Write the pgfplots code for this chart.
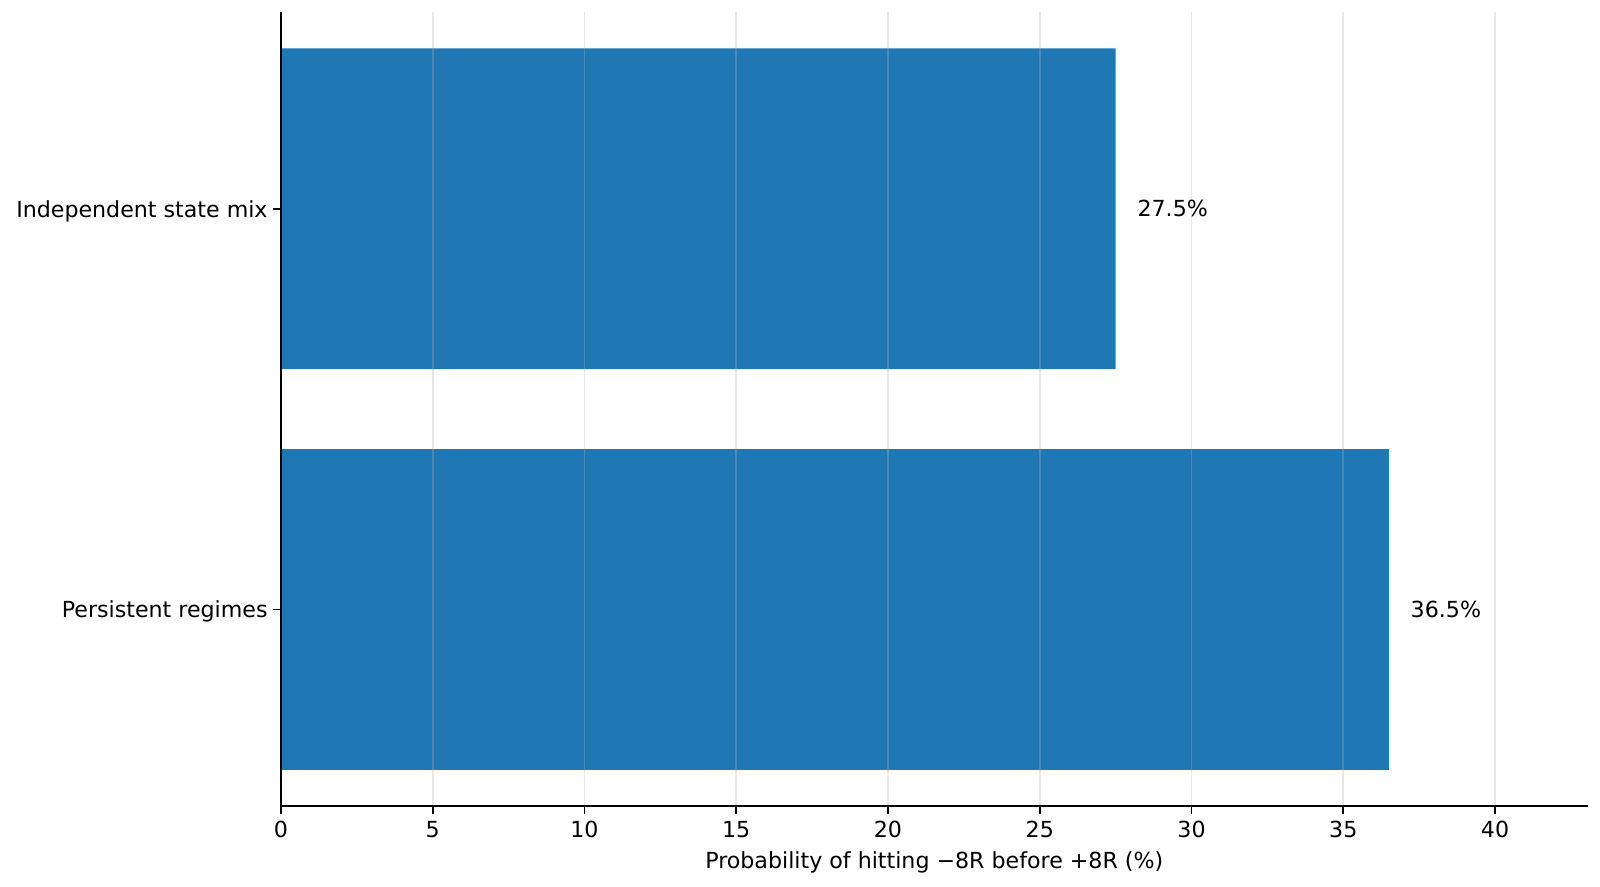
\documentclass[border=0pt]{standalone}
\usepackage{fontspec}
\setmainfont{DejaVu Sans}
\usepackage{pgfplots}
\pgfplotsset{compat=1.18}
\definecolor{barblue}{HTML}{1F77B4}

\begin{document}
\begin{tikzpicture}
\begin{axis}[
    scale only axis,
    width=590.2pt, height=358.4pt,
    xbar, bar width=0.8,
    xmin=0, xmax=43.05,
    ymin=-0.49, ymax=1.49,
    xtick={0,5,...,40},
    ytick={0,1},
    yticklabels={Persistent regimes, Independent state mix},
    yticklabel style={xshift=1pt, yshift=-1pt},
    axis x line*=bottom, axis y line*=left,
    tick align=outside,
    major tick length=3.5pt,
    xmajorgrids,
    grid style={color=black!31, opacity=0.3, line width=0.8pt},
    axis on top,
    axis line style={line width=0.8pt, black},
    every tick/.style={black, line width=0.8pt},
    xlabel={Probability of hitting −8R before +8R (\%)},
    xlabel style={at={(axis description cs:0.5,0)}, anchor=base, yshift=-28.1pt},
    /pgf/number format/assume math mode=true,
    point meta=explicit symbolic,
    nodes near coords,
    nodes near coords style={anchor=west, inner sep=0pt, xshift=9.7pt, black},
]
\addplot[fill=barblue, draw=none] coordinates {
    (36.5,0) [36.5\%]
    (27.5,1) [27.5\%]
};
\coordinate (sw) at (rel axis cs:0,0);
\coordinate (ne) at (rel axis cs:1,1);
\end{axis}
\path ([shift={(-126.9pt,-36.3pt)}]sw) rectangle ([shift={(5.6pt,5.6pt)}]ne);
\end{tikzpicture}
\end{document}
